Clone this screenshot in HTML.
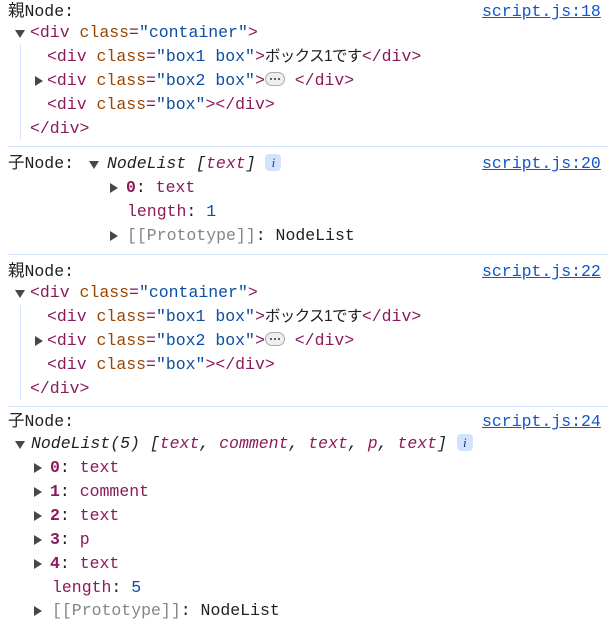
<!DOCTYPE html>
<html><head><meta charset="utf-8"><style>
body{margin:0;width:608px;height:617px;background:#fff;overflow:hidden;position:relative;font-family:"Liberation Mono",monospace;font-size:16.5px;color:#202124}
.l{position:absolute;height:24px;line-height:24px;white-space:pre}
.s{font-family:"Liberation Mono","Noto Sans CJK JP",monospace;font-size:16.5px}
.j{font-family:"Liberation Sans","Noto Sans CJK JP",sans-serif;font-size:15.5px;letter-spacing:-0.6px}
.t{color:#8b1a5a}.a{color:#994500}.v{color:#0b4ea2}.k{color:#8b1a5a;font-weight:bold}.n{color:#0b4ea2}.g{color:#80868b}.p{color:#8b1a5a}
.lnk{position:absolute;left:482px;color:#1155cc;text-decoration:underline;height:24px;line-height:24px}
.sep{position:absolute;left:8px;right:0;height:1px;background:#d3e3fd}
.tri{position:absolute;width:0;height:0}
.dn{border-left:5px solid transparent;border-right:5px solid transparent;border-top:8px solid #474747}
.rt{border-top:5px solid transparent;border-bottom:5px solid transparent;border-left:8px solid #474747}
.gd{position:absolute;left:20px;width:1px;background:#d3e3fd}
.info{display:inline-block;width:16px;height:17px;background:#d3e3fd;border-radius:4px;color:#1f3b6e;font-style:italic;font-size:13px;line-height:17px;text-align:center;vertical-align:1px;font-family:"Liberation Serif",serif}
.dots{display:inline-block;position:relative;width:18px;height:12px;border:1px solid #aaa;border-radius:7px;background:#eee;vertical-align:-1px}
.dots b{position:absolute;top:5px;width:2px;height:2px;background:#333;border-radius:1px}
i{font-style:italic}
</style></head><body>

<div class="l s" style="left:8px;top:0">親Node:</div><div class="lnk" style="top:0">script.js:18</div>
<div class="tri dn" style="left:15px;top:30px"></div>
<div class="l" style="left:30px;top:21px"><span class="t">&lt;div</span> <span class="a">class</span><span class="t">=</span><span class="v">"container"</span><span class="t">&gt;</span></div>
<div class="gd" style="top:45px;height:95px"></div>
<div class="l" style="left:47px;top:45px"><span class="t">&lt;div</span> <span class="a">class</span><span class="t">=</span><span class="v">"box1 box"</span><span class="t">&gt;</span><span class="j">ボックス1です</span><span class="t">&lt;/div&gt;</span></div>
<div class="tri rt" style="left:35px;top:76px"></div>
<div class="l" style="left:47px;top:69px"><span class="t">&lt;div</span> <span class="a">class</span><span class="t">=</span><span class="v">"box2 box"</span><span class="t">&gt;</span><span class="dots"><b style="left:4px"></b><b style="left:8px"></b><b style="left:12px"></b></span> <span class="t">&lt;/div&gt;</span></div>
<div class="l" style="left:47px;top:93px"><span class="t">&lt;div</span> <span class="a">class</span><span class="t">=</span><span class="v">"box"</span><span class="t">&gt;&lt;/div&gt;</span></div>
<div class="l" style="left:30px;top:117px"><span class="t">&lt;/div&gt;</span></div>
<div class="sep" style="top:146px"></div>

<div class="l s" style="left:8px;top:152px">子Node:</div><div class="lnk" style="top:152px">script.js:20</div>
<div class="tri dn" style="left:89px;top:161px"></div>
<div class="l" style="left:107px;top:152px"><i>NodeList [<span class="p">text</span>]</i> <span class="info">i</span></div>
<div class="tri rt" style="left:110px;top:183px"></div>
<div class="l" style="left:126px;top:176px"><span class="k">0</span>: <span class="p">text</span></div>
<div class="l" style="left:127px;top:200px"><span class="p">length</span>: <span class="n">1</span></div>
<div class="tri rt" style="left:110px;top:231px"></div>
<div class="l" style="left:127px;top:224px"><span class="g">[[Prototype]]</span>: NodeList</div>
<div class="sep" style="top:254px"></div>

<div class="l s" style="left:8px;top:260px">親Node:</div><div class="lnk" style="top:260px">script.js:22</div>
<div class="tri dn" style="left:15px;top:290px"></div>
<div class="l" style="left:30px;top:281px"><span class="t">&lt;div</span> <span class="a">class</span><span class="t">=</span><span class="v">"container"</span><span class="t">&gt;</span></div>
<div class="gd" style="top:305px;height:95px"></div>
<div class="l" style="left:47px;top:305px"><span class="t">&lt;div</span> <span class="a">class</span><span class="t">=</span><span class="v">"box1 box"</span><span class="t">&gt;</span><span class="j">ボックス1です</span><span class="t">&lt;/div&gt;</span></div>
<div class="tri rt" style="left:35px;top:336px"></div>
<div class="l" style="left:47px;top:329px"><span class="t">&lt;div</span> <span class="a">class</span><span class="t">=</span><span class="v">"box2 box"</span><span class="t">&gt;</span><span class="dots"><b style="left:4px"></b><b style="left:8px"></b><b style="left:12px"></b></span> <span class="t">&lt;/div&gt;</span></div>
<div class="l" style="left:47px;top:353px"><span class="t">&lt;div</span> <span class="a">class</span><span class="t">=</span><span class="v">"box"</span><span class="t">&gt;&lt;/div&gt;</span></div>
<div class="l" style="left:30px;top:377px"><span class="t">&lt;/div&gt;</span></div>
<div class="sep" style="top:406px"></div>

<div class="l s" style="left:8px;top:410px">子Node:</div><div class="lnk" style="top:410px">script.js:24</div>
<div class="tri dn" style="left:15px;top:441px"></div>
<div class="l" style="left:31px;top:432px"><i>NodeList(5) [<span class="p">text</span>, <span class="p">comment</span>, <span class="p">text</span>, <span class="p">p</span>, <span class="p">text</span>]</i> <span class="info">i</span></div>
<div class="tri rt" style="left:34px;top:463px"></div>
<div class="l" style="left:50px;top:456px"><span class="k">0</span>: <span class="p">text</span></div>
<div class="tri rt" style="left:34px;top:487px"></div>
<div class="l" style="left:50px;top:480px"><span class="k">1</span>: <span class="p">comment</span></div>
<div class="tri rt" style="left:34px;top:511px"></div>
<div class="l" style="left:50px;top:504px"><span class="k">2</span>: <span class="p">text</span></div>
<div class="tri rt" style="left:34px;top:535px"></div>
<div class="l" style="left:50px;top:528px"><span class="k">3</span>: <span class="p">p</span></div>
<div class="tri rt" style="left:34px;top:559px"></div>
<div class="l" style="left:50px;top:552px"><span class="k">4</span>: <span class="p">text</span></div>
<div class="l" style="left:52px;top:576px"><span class="p">length</span>: <span class="n">5</span></div>
<div class="tri rt" style="left:34px;top:606px"></div>
<div class="l" style="left:52px;top:599px"><span class="g">[[Prototype]]</span>: NodeList</div>
</body></html>
